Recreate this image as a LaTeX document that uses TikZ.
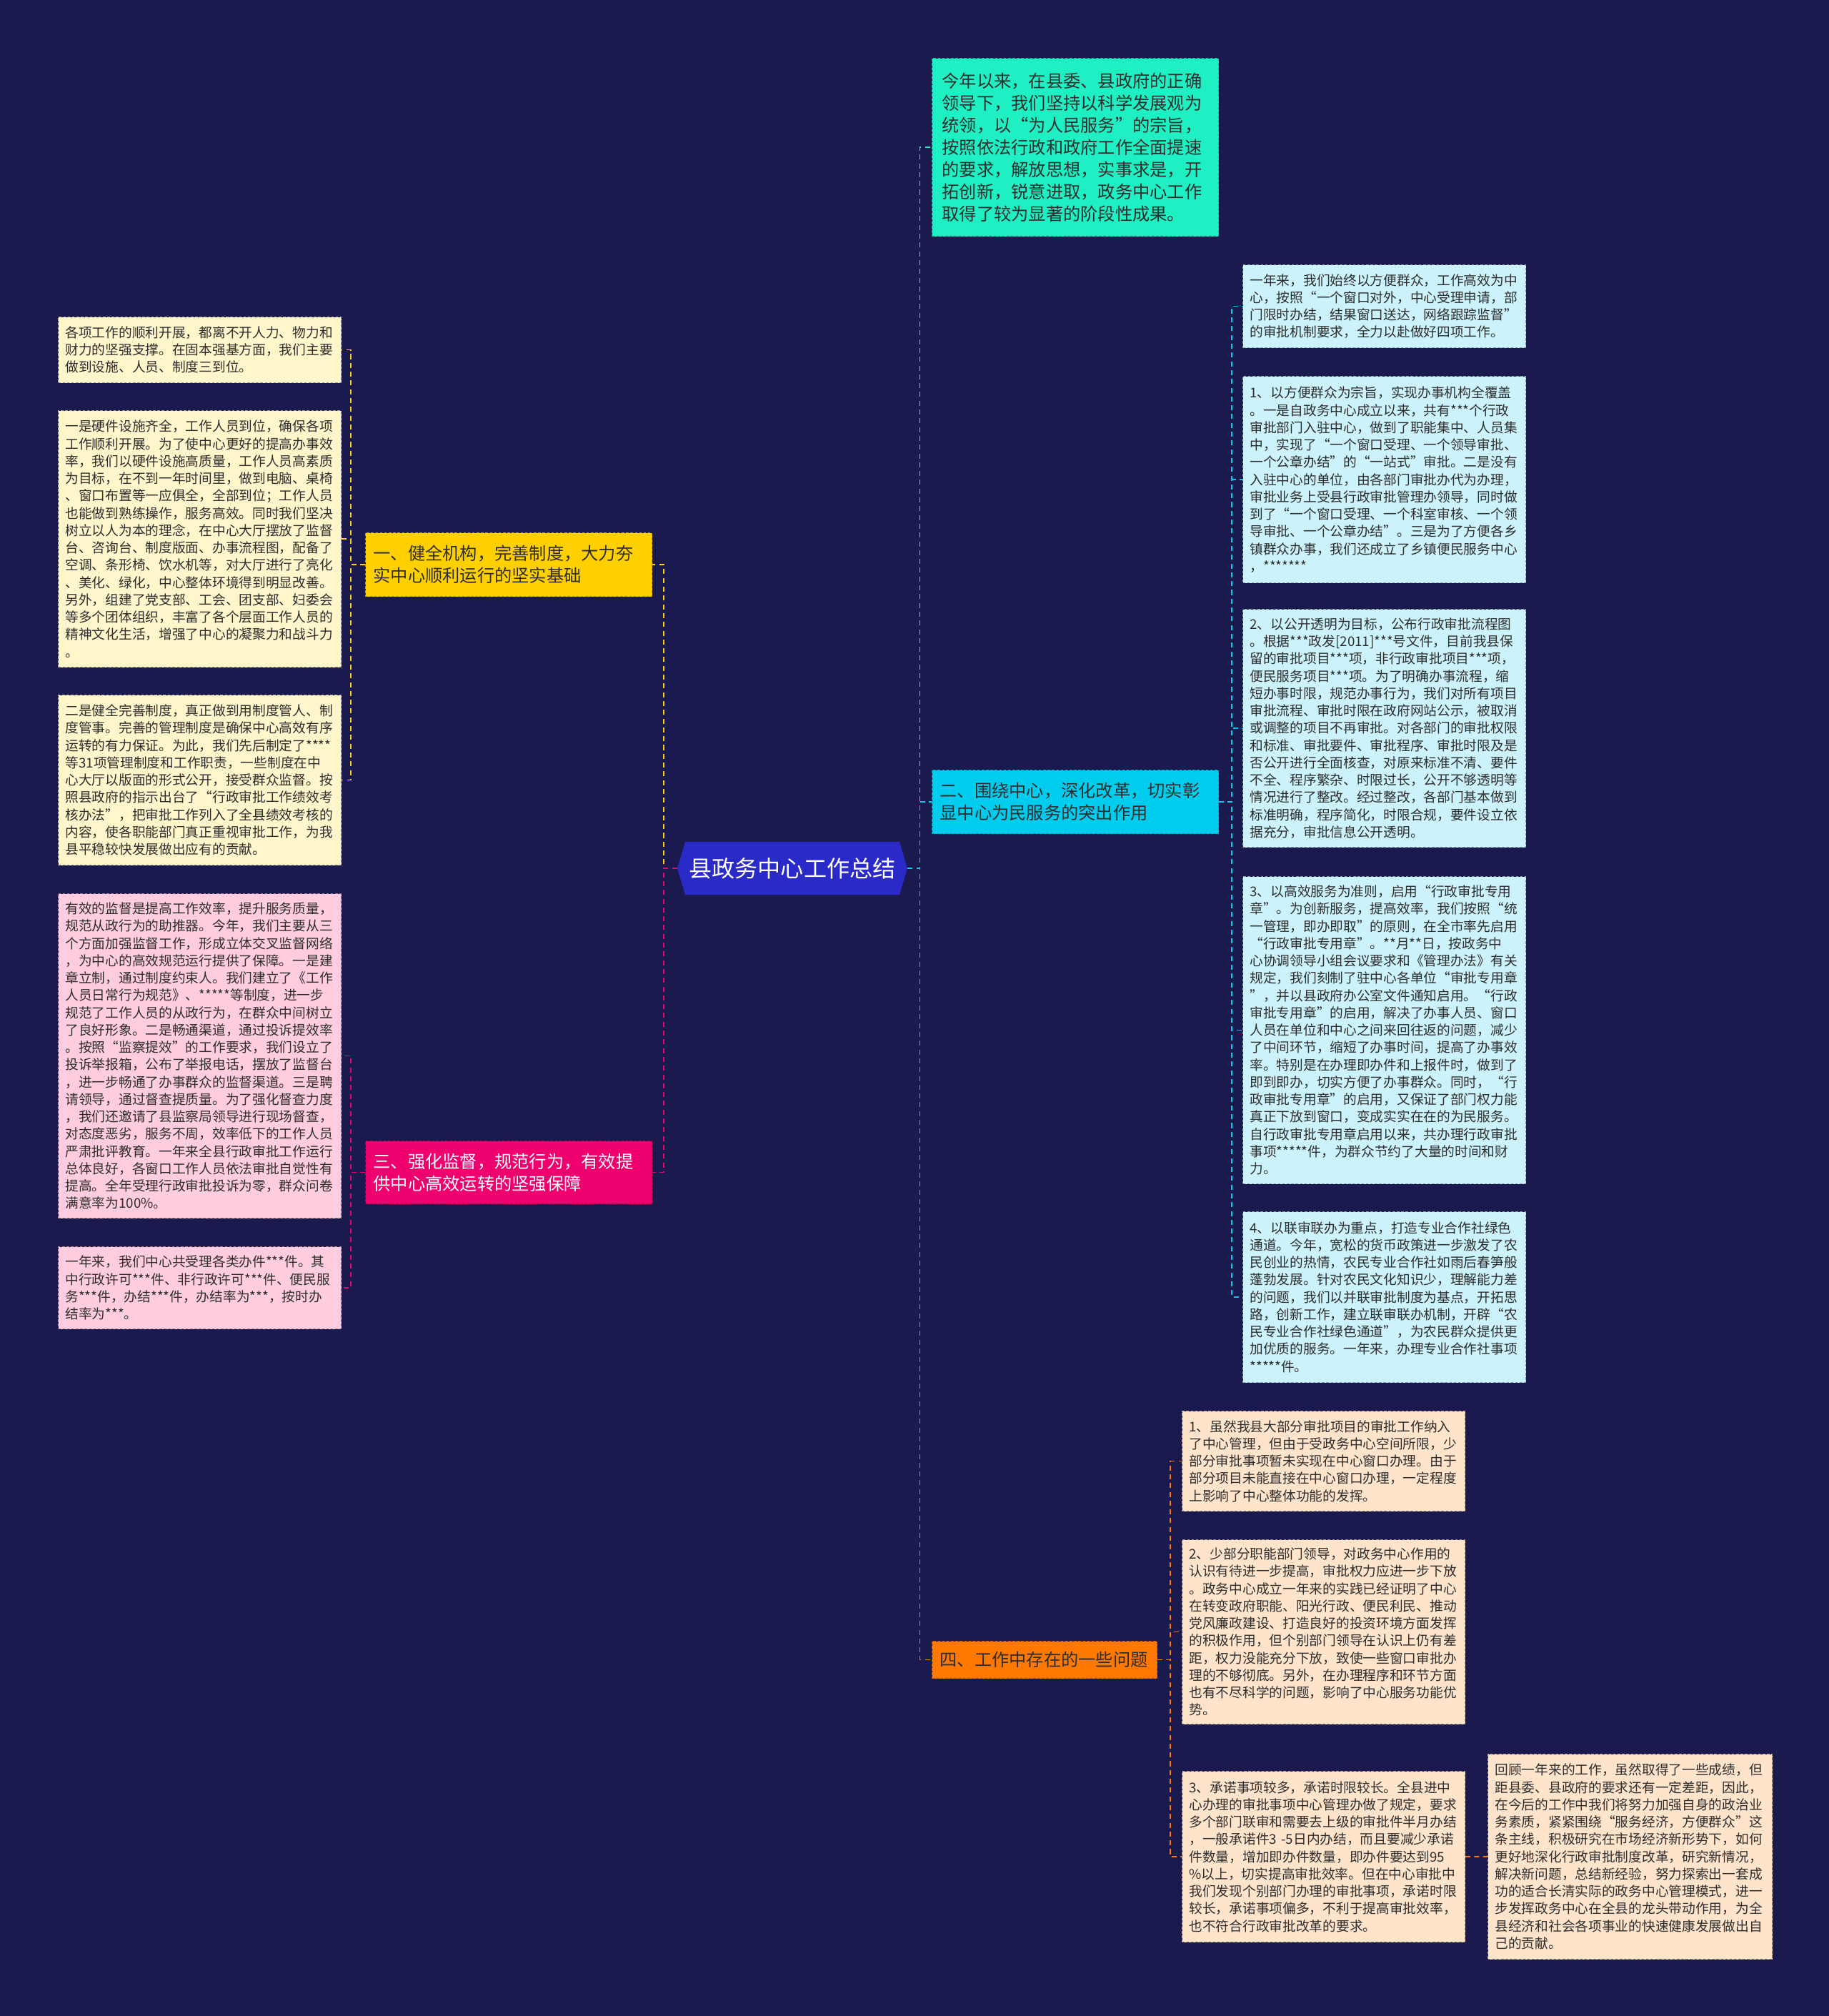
\documentclass[tikz,border=0pt]{standalone}
\usepackage{fontspec}
\newfontfamily\cjk{Noto Sans CJK SC}
\usetikzlibrary{shapes.symbols}
\definecolor{bgnavy}{RGB}{26,26,78}
\definecolor{hubblue}{RGB}{42,42,200}
\definecolor{topgreen}{RGB}{30,240,195}
\definecolor{branchyellow}{RGB}{255,208,0}
\definecolor{branchcyan}{RGB}{0,204,238}
\definecolor{branchpink}{RGB}{240,0,110}
\definecolor{branchorange}{RGB}{255,120,0}
\definecolor{leafyellow}{RGB}{255,246,204}
\definecolor{leafpink}{RGB}{255,204,224}
\definecolor{leafcyan}{RGB}{204,242,252}
\definecolor{leaforange}{RGB}{255,228,204}
\definecolor{inktext}{RGB}{45,45,45}
\begin{document}
\begin{tikzpicture}[
  hub/.style={shape=signal, signal to=west and east, signal pointer angle=147,
    fill=hubblue, text=white, minimum width=6.44cm, minimum height=1.48cm, inner sep=0pt,
    font=\cjk\fontsize{18.3pt}{20pt}\selectfont},
  branch/.style={fill=#1, draw=#1!75!black, line width=0.6pt, dash pattern=on 2pt off 1.5pt,
    anchor=north west, inner xsep=0.22cm, align=left, text=inktext,
    font=\cjk\fontsize{13.8pt}{17.6pt}\selectfont},
  leaf/.style={fill=#1, draw=#1!65!black, line width=0.6pt, dash pattern=on 2pt off 1.5pt,
    anchor=north west, text width=7.52cm, inner xsep=0.2cm, inner ysep=0.1cm,
    align=left, text=inktext, font=\cjk\fontsize{10.65pt}{13.8pt}\selectfont},
  link/.style={draw=#1, line width=1pt, dash pattern=on 4pt off 3pt}
]
\useasboundingbox (0,0) rectangle (51.2,-56.42);
\fill[bgnavy] (0,0) rectangle (51.2,-56.42);

% centre
\node[hub] (hub) at (22.18,-24.30) {县政务中心工作总结};

% main branches
\node[branch=topgreen, text width=7.46cm, inner xsep=0.28cm, minimum height=4.98cm] (t0) at (26.08,-1.62)
  {今年以来，在县委、县政府的正确\\领导下，我们坚持以科学发展观为\\统领，以“为人民服务”的宗旨，\\按照依法行政和政府工作全面提速\\的要求，解放思想，实事求是，开\\拓创新，锐意进取，政务中心工作\\取得了较为显著的阶段性成果。};
\node[branch=branchyellow, text width=7.58cm, minimum height=1.78cm] (b1) at (10.22,-14.90)
  {一、健全机构，完善制度，大力夯\\实中心顺利运行的坚实基础};
\node[branch=branchcyan, text width=7.58cm, minimum height=1.78cm] (b2) at (26.08,-21.54)
  {二、围绕中心，深化改革，切实彰\\显中心为民服务的突出作用};
\node[branch=branchpink, text=white, text width=7.58cm, minimum height=1.76cm] (b3) at (10.22,-31.92)
  {三、强化监督，规范行为，有效提\\供中心高效运转的坚强保障};
\node[branch=branchorange, text width=5.86cm, minimum height=1.04cm] (b4) at (26.08,-45.92)
  {四、工作中存在的一些问题};

% leaves of branch one
\node[leaf=leafyellow, minimum height=1.84cm] (y1) at (1.62,-8.86)
  {各项工作的顺利开展，都离不开人力、物力和\\财力的坚强支撑。在固本强基方面，我们主要\\做到设施、人员、制度三到位。};
\node[leaf=leafyellow, minimum height=7.18cm] (y2) at (1.62,-11.48)
  {一是硬件设施齐全，工作人员到位，确保各项\\工作顺利开展。为了使中心更好的提高办事效\\率，我们以硬件设施高质量，工作人员高素质\\为目标，在不到一年时间里，做到电脑、桌椅\\、窗口布置等一应俱全，全部到位；工作人员\\也能做到熟练操作，服务高效。同时我们坚决\\树立以人为本的理念，在中心大厅摆放了监督\\台、咨询台、制度版面、办事流程图，配备了\\空调、条形椅、饮水机等，对大厅进行了亮化\\、美化、绿化，中心整体环境得到明显改善。\\另外，组建了党支部、工会、团支部、妇委会\\等多个团体组织，丰富了各个层面工作人员的\\精神文化生活，增强了中心的凝聚力和战斗力\\。};
\node[leaf=leafyellow, minimum height=4.76cm] (y3) at (1.62,-19.44)
  {二是健全完善制度，真正做到用制度管人、制\\度管事。完善的管理制度是确保中心高效有序\\运转的有力保证。为此，我们先后制定了****\\等31项管理制度和工作职责，一些制度在中\\心大厅以版面的形式公开，接受群众监督。按\\照县政府的指示出台了“行政审批工作绩效考\\核办法”，把审批工作列入了全县绩效考核的\\内容，使各职能部门真正重视审批工作，为我\\县平稳较快发展做出应有的贡献。};

% leaves of branch three
\node[leaf=leafpink, minimum height=9.08cm] (p1) at (1.62,-25.00)
  {有效的监督是提高工作效率，提升服务质量，\\规范从政行为的助推器。今年，我们主要从三\\个方面加强监督工作，形成立体交叉监督网络\\，为中心的高效规范运行提供了保障。一是建\\章立制，通过制度约束人。我们建立了《工作\\人员日常行为规范》、*****等制度，进一步\\规范了工作人员的从政行为，在群众中间树立\\了良好形象。二是畅通渠道，通过投诉提效率\\。按照“监察提效”的工作要求，我们设立了\\投诉举报箱，公布了举报电话，摆放了监督台\\，进一步畅通了办事群众的监督渠道。三是聘\\请领导，通过督查提质量。为了强化督查力度\\，我们还邀请了县监察局领导进行现场督查，\\对态度恶劣，服务不周，效率低下的工作人员\\严肃批评教育。一年来全县行政审批工作运行\\总体良好，各窗口工作人员依法审批自觉性有\\提高。全年受理行政审批投诉为零，群众问卷\\满意率为100\%。};
\node[leaf=leafpink, minimum height=2.30cm] (p2) at (1.62,-34.88)
  {一年来，我们中心共受理各类办件***件。其\\中行政许可***件、非行政许可***件、便民服\\务***件，办结***件，办结率为***，按时办\\结率为***。};

% leaves of branch two
\node[leaf=leafcyan, minimum height=2.32cm] (c1) at (34.78,-7.40)
  {一年来，我们始终以方便群众，工作高效为中\\心，按照“一个窗口对外，中心受理申请，部\\门限时办结，结果窗口送达，网络跟踪监督”\\的审批机制要求，全力以赴做好四项工作。};
\node[leaf=leafcyan, minimum height=5.78cm] (c2) at (34.78,-10.52)
  {1、以方便群众为宗旨，实现办事机构全覆盖\\。一是自政务中心成立以来，共有***个行政\\审批部门入驻中心，做到了职能集中、人员集\\中，实现了“一个窗口受理、一个领导审批、\\一个公章办结”的“一站式”审批。二是没有\\入驻中心的单位，由各部门审批办代为办理，\\审批业务上受县行政审批管理办领导，同时做\\到了“一个窗口受理、一个科室审核、一个领\\导审批、一个公章办结”。三是为了方便各乡\\镇群众办事，我们还成立了乡镇便民服务中心\\，*******};
\node[leaf=leafcyan, minimum height=6.66cm] (c3) at (34.78,-17.04)
  {2、以公开透明为目标，公布行政审批流程图\\。根据***政发[2011]***号文件，目前我县保\\留的审批项目***项，非行政审批项目***项，\\便民服务项目***项。为了明确办事流程，缩\\短办事时限，规范办事行为，我们对所有项目\\审批流程、审批时限在政府网站公示，被取消\\或调整的项目不再审批。对各部门的审批权限\\和标准、审批要件、审批程序、审批时限及是\\否公开进行全面核查，对原来标准不清、要件\\不全、程序繁杂、时限过长，公开不够透明等\\情况进行了整改。经过整改，各部门基本做到\\标准明确，程序简化，时限合规，要件设立依\\据充分，审批信息公开透明。};
\node[leaf=leafcyan, minimum height=8.60cm] (c4) at (34.78,-24.52)
  {3、以高效服务为准则，启用“行政审批专用\\章”。为创新服务，提高效率，我们按照“统\\一管理，即办即取”的原则，在全市率先启用\\“行政审批专用章”。**月**日，按政务中\\心协调领导小组会议要求和《管理办法》有关\\规定，我们刻制了驻中心各单位“审批专用章\\”，并以县政府办公室文件通知启用。“行政\\审批专用章”的启用，解决了办事人员、窗口\\人员在单位和中心之间来回往返的问题，减少\\了中间环节，缩短了办事时间，提高了办事效\\率。特别是在办理即办件和上报件时，做到了\\即到即办，切实方便了办事群众。同时，“行\\政审批专用章”的启用，又保证了部门权力能\\真正下放到窗口，变成实实在在的为民服务。\\自行政审批专用章启用以来，共办理行政审批\\事项*****件，为群众节约了大量的时间和财\\力。};
\node[leaf=leafcyan, minimum height=4.78cm] (c5) at (34.78,-33.90)
  {4、以联审联办为重点，打造专业合作社绿色\\通道。今年，宽松的货币政策进一步激发了农\\民创业的热情，农民专业合作社如雨后春笋般\\蓬勃发展。针对农民文化知识少，理解能力差\\的问题，我们以并联审批制度为基点，开拓思\\路，创新工作，建立联审联办机制，开辟“农\\民专业合作社绿色通道”，为农民群众提供更\\加优质的服务。一年来，办理专业合作社事项\\{}*****件。};

% leaves of branch four
\node[leaf=leaforange, minimum height=2.80cm] (o1) at (33.08,-39.48)
  {1、虽然我县大部分审批项目的审批工作纳入\\了中心管理，但由于受政务中心空间所限，少\\部分审批事项暂未实现在中心窗口办理。由于\\部分项目未能直接在中心窗口办理，一定程度\\上影响了中心整体功能的发挥。};
\node[leaf=leaforange, minimum height=5.16cm] (o2) at (33.08,-43.08)
  {2、少部分职能部门领导，对政务中心作用的\\认识有待进一步提高，审批权力应进一步下放\\。政务中心成立一年来的实践已经证明了中心\\在转变政府职能、阳光行政、便民利民、推动\\党风廉政建设、打造良好的投资环境方面发挥\\的积极作用，但个别部门领导在认识上仍有差\\距，权力没能充分下放，致使一些窗口审批办\\理的不够彻底。另外，在办理程序和环节方面\\也有不尽科学的问题，影响了中心服务功能优\\势。};
\node[leaf=leaforange, minimum height=4.78cm] (o3) at (33.08,-49.56)
  {3、承诺事项较多，承诺时限较长。全县进中\\心办理的审批事项中心管理办做了规定，要求\\多个部门联审和需要去上级的审批件半月办结\\，一般承诺件3 -5日内办结，而且要减少承诺\\件数量，增加即办件数量，即办件要达到95\\\%以上，切实提高审批效率。但在中心审批中\\我们发现个别部门办理的审批事项，承诺时限\\较长，承诺事项偏多，不利于提高审批效率，\\也不符合行政审批改革的要求。};
\node[leaf=leaforange, text width=7.56cm, minimum height=5.74cm] (r1) at (41.64,-49.08)
  {回顾一年来的工作，虽然取得了一些成绩，但\\距县委、县政府的要求还有一定差距，因此，\\在今后的工作中我们将努力加强自身的政治业\\务素质，紧紧围绕“服务经济，方便群众”这\\条主线，积极研究在市场经济新形势下，如何\\更好地深化行政审批制度改革，研究新情况，\\解决新问题，总结新经验，努力探索出一套成\\功的适合长清实际的政务中心管理模式，进一\\步发挥政务中心在全县的龙头带动作用，为全\\县经济和社会各项事业的快速健康发展做出自\\己的贡献。};

% connectors
\draw[link=topgreen] (hub.east) -- ++(0.34,0) |- (t0.west);
\draw[link=branchorange] (hub.east) -- ++(0.34,0) |- (b4.west);
\draw[link=branchcyan] (hub.east) -- ++(0.34,0) |- (b2.west);
\draw[link=branchyellow] (hub.west) -- ++(-0.38,0) |- (b1.east);
\draw[link=branchpink] (hub.west) -- ++(-0.38,0) |- (b3.east);
\foreach \leaf in {y1,y2,y3}
  \draw[link=branchyellow] (b1.west) -- ++(-0.4,0) |- (\leaf.east);
\foreach \leaf in {p1,p2}
  \draw[link=branchpink] (b3.west) -- ++(-0.4,0) |- (\leaf.east);
\foreach \leaf in {c1,c2,c3,c4,c5}
  \draw[link=branchcyan] (b2.east) -- ++(0.36,0) |- (\leaf.west);
\foreach \leaf in {o1,o2,o3}
  \draw[link=branchorange] (b4.east) -- ++(0.36,0) |- (\leaf.west);
\draw[link=branchorange] (o3.east) -- (r1.west);
\end{tikzpicture}
\end{document}
